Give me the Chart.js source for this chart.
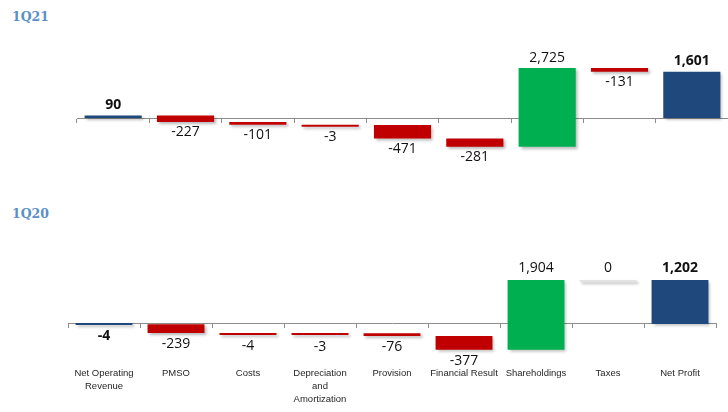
<!DOCTYPE html>
<html>
<head>
<meta charset="utf-8">
<script src="https://cdn.jsdelivr.net/npm/chart.js@4.4.0/dist/chart.umd.min.js"></script>
<style>
    body { margin: 0; background: #fff; width: 728px; height: 412px; overflow: hidden; position: relative; }
    .period { position: absolute; left: 12px; font: bold 12.5px 'DejaVu Serif', serif; color: #5b8fc7; }
    canvas { position: absolute; left: 0; }
</style>
</head>
<body>
<div class="period" style="top: 9px;">1Q21</div>
<div class="period" style="top: 206px;">1Q20</div>
<canvas id="chart1Q21" width="728" height="195" style="top: 0;"></canvas>
<canvas id="chart1Q20" width="728" height="212" style="top: 200px;"></canvas>
<script>
// Categories (bottom labels, wrapped as in the original)
const categories = [
    ['Net Operating', 'Revenue'], 'PMSO', 'Costs', ['Depreciation', 'and', 'Amortization'],
    'Provision', 'Financial Result', 'Shareholdings', 'Taxes', 'Net Profit'
];
// 'total' bars start at zero, 'step' bars float on the running sum
const barKinds = ['total', 'step', 'step', 'step', 'step', 'step', 'step', 'step', 'total'];

const values1Q21 = [90, -227, -101, -3, -471, -281, 2725, -131, 1601];
const values1Q20 = [-4, -239, -4, -3, -76, -377, 1904, 0, 1202];

const colors = {
    total: '#1f497d',
    up: '#00b050',
    down: '#c00000',
    zero: '#e3e3e3'
};

function buildWaterfall(values) {
    let running = 0;
    const ranges = [];
    const fills = [];
    values.forEach((v, i) => {
        let start, end;
        if (barKinds[i] === 'total') {
            start = 0;
            end = v;
            running = v;
            fills.push(colors.total);
        } else {
            start = running;
            end = running + v;
            running = end;
            fills.push(v > 0 ? colors.up : (v < 0 ? colors.down : colors.zero));
        }
        ranges.push([start, end]);
    });
    return { ranges, fills };
}

function formatValue(v) {
    return v.toLocaleString('en-US');
}

// Value labels above positive bars, below negative ones
function valueLabels(values, gap) {
    return {
        id: 'valueLabels',
        afterDatasetsDraw(chart) {
            const ctx = chart.ctx;
            const meta = chart.getDatasetMeta(0);
            ctx.save();
            ctx.shadowColor = 'transparent';
            ctx.fillStyle = '#111';
            ctx.textAlign = 'center';
            ctx.textBaseline = 'middle';
            meta.data.forEach((bar, i) => {
                const v = values[i];
                const bold = barKinds[i] === 'total';
                ctx.font = (bold ? 'bold ' : '') + '14px "Open Sans"';
                const top = Math.min(bar.y, bar.base);
                const bottom = Math.max(bar.y, bar.base);
                const y = v >= 0 ? top - gap : bottom + gap;
                ctx.fillText(formatValue(v), bar.x, y);
            });
            ctx.restore();
        }
    };
}

const barShadow = {
    id: 'barShadow',
    beforeDatasetsDraw(chart) {
        const ctx = chart.ctx;
        ctx.save();
        ctx.shadowColor = 'rgba(0, 0, 0, 0.28)';
        ctx.shadowBlur = 3;
        ctx.shadowOffsetX = 2;
        ctx.shadowOffsetY = 2;
    },
    afterDatasetsDraw(chart) {
        chart.ctx.restore();
    }
};

function makeChart(canvasId, values, opts) {
    const wf = buildWaterfall(values);
    const scales = {
        x: {
            type: 'category',
            position: { y: 0 },
            offset: true,
            grid: {
                display: true,
                drawOnChartArea: false,
                drawTicks: true,
                tickLength: 4,
                offset: true,
                color: '#8c8c8c'
            },
            border: { display: true, color: '#8c8c8c', width: 1 },
            ticks: { display: false }
        },
        y: {
            display: false,
            min: opts.yMin,
            max: opts.yMax
        }
    };
    if (opts.showLabels) {
        scales.x2 = {
            type: 'category',
            position: 'bottom',
            offset: true,
            labels: categories,
            grid: { display: false, drawTicks: false },
            border: { display: false },
            ticks: {
                padding: 4,
                color: '#262626',
                autoSkip: false,
                maxRotation: 0,
                font: { family: '"Liberation Sans"', size: 9.5, lineHeight: 1.37 }
            },
            afterFit(scale) { scale.height = 43; }
        };
    }
    return new Chart(document.getElementById(canvasId), {
        type: 'bar',
        data: {
            labels: categories,
            datasets: [{
                data: wf.ranges,
                backgroundColor: wf.fills,
                borderWidth: 0,
                borderSkipped: false,
                minBarLength: 2,
                categoryPercentage: 1,
                barPercentage: 0.79
            }]
        },
        options: {
            responsive: false,
            animation: false,
            layout: { padding: opts.padding },
            plugins: {
                legend: { display: false },
                tooltip: { enabled: false },
                title: { display: false }
            },
            scales: scales
        },
        plugins: [barShadow, valueLabels(values, opts.gap)]
    });
}

// Zero line sits at y=118 in the upper panel, y=324 in the lower one
makeChart('chart1Q21', values1Q21, {
    padding: { left: 77, right: 0, top: 40, bottom: 15 },
    yMin: -2151,
    yMax: 2707,
    gap: 10.5,
    showLabels: false
});

makeChart('chart1Q20', values1Q20, {
    padding: { left: 68, right: 12, top: 40, bottom: 6 },
    yMin: -1065,
    yMax: 2293,
    gap: 11.5,
    showLabels: true
});
</script>
</body>
</html>
